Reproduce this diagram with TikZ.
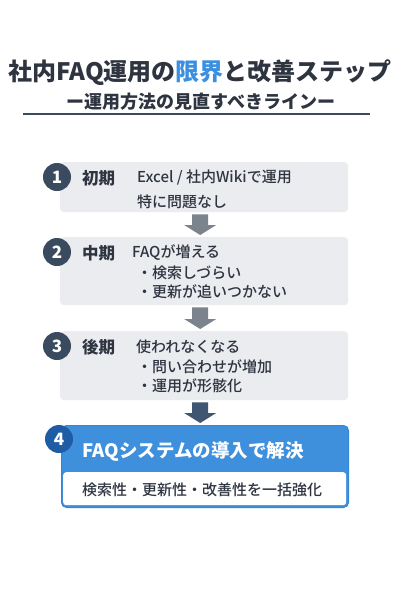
\documentclass[tikz,border=0pt]{standalone}
\usepackage{fontspec}
\setmainfont{Noto Sans CJK JP}
\IfFontExistsTF{Noto Sans CJK JP Medium}{\newfontfamily\medfont{Noto Sans CJK JP Medium}}{\newfontfamily\medfont{Noto Sans CJK JP}}
\usetikzlibrary{calc}
\definecolor{ink}{HTML}{2E3440}
\definecolor{navy}{HTML}{3A4A5F}
\definecolor{boxgray}{HTML}{EBECF0}
\definecolor{accent}{HTML}{3A8FE0}
\definecolor{arrgray}{HTML}{7B838C}
\definecolor{arrdark}{HTML}{3F5673}
\definecolor{solblue}{HTML}{3F90DC}
\definecolor{solborder}{HTML}{3686D6}
\definecolor{circblue}{HTML}{1F5CA6}
\newcommand\blockarrow[3]{%
  \fill[#1] let \p1=(#2.south), \p2=(#3.north) in
  (\x1-12pt,\y1-2pt) -- (\x1+4pt,\y1-2pt) -- (\x1+4pt,\y2+12pt) -- (\x1+12pt,\y2+12pt)
  -- (\x1-4pt,\y2+2pt) -- (\x1-20pt,\y2+12pt) -- (\x1-12pt,\y2+12pt) -- cycle;}
\begin{document}
\begin{tikzpicture}[x=1pt,y=-1pt,
  stagebox/.style={fill=boxgray, rounded corners=4pt, anchor=north west, inner sep=0pt},
  numcirc/.style={circle, fill=navy, text=white, minimum size=28pt, inner sep=0pt, font=\bfseries\fontsize{17}{17}\selectfont},
  phase/.style={anchor=west, text=ink, font=\bfseries\fontsize{16.5}{16.5}\selectfont, inner sep=0pt},
  body/.style={anchor=west, text=ink, font=\medfont\fontsize{15}{15}\selectfont, inner sep=0pt},
]
\useasboundingbox (0,0) rectangle (400,600);
\fill[white] (0,0) rectangle (400,600);

\node[font=\bfseries\fontsize{24}{24}\selectfont, text=ink] (title) at (200,73) {社内FAQ運用の\textcolor{accent}{限界}と改善ステップ};
\node[font=\bfseries\fontsize{18}{18}\selectfont, text=ink] (sub) at (201,102) {ー運用方法の見直すべきラインー};
\draw[navy, line width=1.3pt] (23,114) -- (370,114);

% stage 1
\node[stagebox, minimum width=288pt, minimum height=50pt] (b1) at (60,162) {};
\node[numcirc] (c1) at (57,177) {1};
\node[phase] (p1) at (82,178) {初期};
\node[body] (t1a) at (137,178) {Excel / 社内Wikiで運用};
\node[body] (t1b) at (137,202) {特に問題なし};

% stage 2
\node[stagebox, minimum width=288pt, minimum height=68pt] (b2) at (60,237) {};
\node[numcirc] (c2) at (57,252) {2};
\node[phase] (p2) at (82,253) {中期};
\node[body] (t2a) at (132,253) {FAQが増える};
\node[body] (t2b) at (137,273) {・検索しづらい};
\node[body] (t2c) at (137,292) {・更新が追いつかない};

% stage 3
\node[stagebox, minimum width=288pt, minimum height=69pt] (b3) at (60,331) {};
\node[numcirc] (c3) at (57,346) {3};
\node[phase] (p3) at (82,347) {後期};
\node[body] (t3a) at (136,347) {使われなくなる};
\node[body] (t3b) at (137,367) {・問い合わせが増加};
\node[body] (t3c) at (137,386) {・運用が形骸化};

% stage 4
\node[draw=solborder, fill=solblue, rounded corners=5pt, line width=1pt, anchor=north west, inner sep=0pt, minimum width=287pt, minimum height=82pt] (b4) at (61,425) {};
\node[fill=white, rounded corners=3pt, anchor=north west, inner sep=0pt, minimum width=283pt, minimum height=33pt] (b4w) at (63,472) {};
\node[numcirc, fill=circblue] (c4) at (59,439) {4};
\node[anchor=west, text=white, inner sep=0pt, font=\bfseries\fontsize{18.5}{18.5}\selectfont] (t4) at (82,451) {FAQシステムの導入で解決};
\node[anchor=west, text=ink, inner sep=0pt, font=\medfont\fontsize{15}{15}\selectfont] (t4b) at (82,490) {検索性・更新性・改善性を一括強化};

% arrows
\blockarrow{arrgray}{b1}{b2}
\blockarrow{arrgray}{b2}{b3}
\blockarrow{arrdark}{b3}{b4}
\end{tikzpicture}
\end{document}
